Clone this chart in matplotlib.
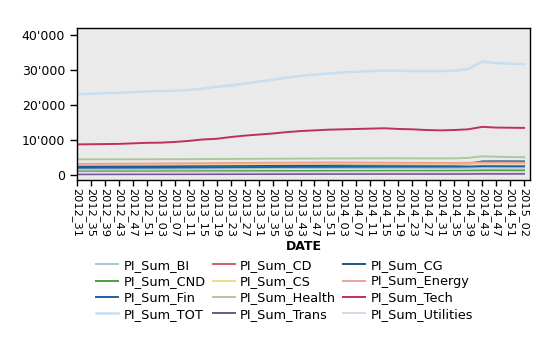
import numpy as np
import matplotlib
matplotlib.use("Agg")
import matplotlib.pyplot as plt
from matplotlib.ticker import FuncFormatter

# week labels (one value every 4 weeks)
weeks = ["2012_31", "2012_35", "2012_39", "2012_43", "2012_47", "2012_51",
         "2013_03", "2013_07", "2013_11", "2013_15", "2013_19", "2013_23",
         "2013_27", "2013_31", "2013_35", "2013_39", "2013_43", "2013_47",
         "2013_51", "2014_03", "2014_07", "2014_11", "2014_15", "2014_19",
         "2014_23", "2014_27", "2014_31", "2014_35", "2014_39", "2014_43",
         "2014_47", "2014_51", "2015_02"]

pi_bi = [1700, 1720, 1730, 1750, 1760, 1780, 1800, 1810, 1830, 1850, 1880, 1900,
         1930, 1960, 1990, 2010, 2030, 2040, 2050, 2060, 2070, 2070, 2080, 2080,
         2070, 2060, 2060, 2060, 2100, 2200, 2180, 2170, 2170]
pi_cd = [2800, 2810, 2830, 2850, 2870, 2880, 2900, 2920, 2950, 2980, 3000, 3050,
         3100, 3150, 3180, 3200, 3230, 3250, 3270, 3280, 3300, 3300, 3310, 3300,
         3280, 3270, 3300, 3350, 3450, 3700, 3680, 3660, 3650]
pi_cg = [2550, 2560, 2570, 2580, 2600, 2610, 2620, 2640, 2660, 2690, 2720, 2750,
         2780, 2820, 2850, 2880, 2900, 2920, 2940, 2950, 2970, 2980, 3000, 3000,
         3010, 3020, 3030, 3050, 3200, 3950, 3980, 3970, 3960]
pi_cnd = [1100, 1100, 1110, 1110, 1120, 1120, 1130, 1140, 1150, 1160, 1170, 1180,
          1190, 1200, 1210, 1220, 1230, 1240, 1250, 1250, 1260, 1270, 1280, 1280,
          1280, 1280, 1290, 1300, 1320, 1400, 1390, 1380, 1380]
pi_cs = [3000, 3010, 3020, 3030, 3040, 3050, 3060, 3080, 3100, 3120, 3140, 3160,
         3180, 3200, 3220, 3240, 3250, 3260, 3270, 3270, 3260, 3250, 3250, 3240,
         3230, 3220, 3220, 3230, 3250, 3300, 3290, 3280, 3280]
pi_energy = [3250, 3270, 3300, 3320, 3340, 3360, 3380, 3400, 3420, 3450, 3480, 3500,
             3530, 3560, 3580, 3600, 3620, 3640, 3650, 3650, 3640, 3620, 3600, 3580,
             3560, 3540, 3520, 3530, 3560, 3650, 3640, 3630, 3620]
pi_fin = [2150, 2160, 2170, 2180, 2190, 2200, 2210, 2230, 2250, 2270, 2290, 2310,
          2330, 2350, 2370, 2390, 2400, 2410, 2420, 2430, 2440, 2450, 2460, 2460,
          2460, 2460, 2470, 2480, 2500, 2600, 2590, 2580, 2580]
pi_health = [4550, 4550, 4560, 4560, 4570, 4570, 4580, 4590, 4600, 4620, 4640, 4660,
             4680, 4700, 4720, 4740, 4760, 4780, 4800, 4810, 4820, 4830, 4840, 4840,
             4830, 4820, 4820, 4840, 4950, 5400, 5300, 5200, 5150]
pi_tech = [8800, 8850, 8900, 8950, 9100, 9250, 9300, 9500, 9800, 10200, 10400, 10900,
           11300, 11600, 11900, 12300, 12600, 12800, 13000, 13100, 13200, 13300, 13400, 13200,
           13100, 12900, 12800, 12900, 13100, 13800, 13600, 13550, 13500]
pi_tot = [23100, 23200, 23400, 23500, 23700, 23900, 24000, 24100, 24300, 24700, 25200, 25600,
          26100, 26700, 27200, 27800, 28300, 28700, 29000, 29300, 29500, 29700, 29800, 29800,
          29700, 29700, 29700, 29800, 30300, 32400, 32000, 31800, 31700]
pi_trans = [300, 300, 310, 310, 320, 320, 330, 330, 340, 340, 350, 350,
            360, 360, 370, 370, 380, 380, 390, 390, 400, 400, 400, 400,
            400, 400, 400, 410, 420, 450, 440, 440, 440]
pi_utilities = [750, 750, 760, 760, 770, 770, 780, 780, 790, 790, 800, 800,
                810, 810, 820, 820, 830, 830, 840, 840, 850, 850, 850, 850,
                850, 850, 850, 860, 870, 900, 890, 890, 890]

series = [
    ("PI_Sum_BI", pi_bi, "#a7c7d6"),
    ("PI_Sum_CD", pi_cd, "#cf5f6f"),
    ("PI_Sum_CG", pi_cg, "#1f5682"),
    ("PI_Sum_CND", pi_cnd, "#4e9e3e"),
    ("PI_Sum_CS", pi_cs, "#f2d98c"),
    ("PI_Sum_Energy", pi_energy, "#eea09a"),
    ("PI_Sum_Fin", pi_fin, "#1f5fa6"),
    ("PI_Sum_Health", pi_health, "#aec89c"),
    ("PI_Sum_Tech", pi_tech, "#c0305e"),
    ("PI_Sum_TOT", pi_tot, "#c6def0"),
    ("PI_Sum_Trans", pi_trans, "#6e5490"),
    ("PI_Sum_Utilities", pi_utilities, "#e2d2ea"),
]

fig = plt.figure(figsize=(5.59, 3.53), dpi=100)
ax = fig.add_axes([0.1377, 0.49, 0.8113, 0.43])
ax.set_facecolor("#eaeaea")

x = np.arange(len(weeks))
handles = []
for name, vals, col in series:
    lw = 1.8 if name == "PI_Sum_TOT" else 1.4
    h, = ax.plot(x, vals, color=col, lw=lw, label=name)
    handles.append(h)

ax.set_xlim(0, len(weeks) - 1 + 0.46)
ax.set_ylim(-1350, 41900)
ax.set_yticks([0, 10000, 20000, 30000, 40000])
ax.yaxis.set_major_formatter(FuncFormatter(lambda v, p: f"{int(v):,}".replace(",", "'")))
ax.set_xticks(x)
ax.set_xticklabels(weeks, rotation=270, fontsize=8.2)
ax.tick_params(axis="y", labelsize=9, length=5, width=1, colors="black")
ax.tick_params(axis="x", length=4, width=1, pad=2)
for s in ax.spines.values():
    s.set_linewidth(1)
ax.set_xlabel("DATE", fontsize=9, fontweight="bold", labelpad=2)

# legend is filled row by row in the reference
order = [0, 3, 6, 9, 1, 4, 7, 10, 2, 5, 8, 11]
fig.legend([handles[i] for i in order], [series[i][0] for i in order],
           loc="upper left", bbox_to_anchor=(0.161, 0.285), ncol=3, frameon=False,
           fontsize=9.3, handlelength=1.7, handletextpad=0.4, columnspacing=0.55,
           labelspacing=0.25, borderpad=0)

fig.savefig("out.png", dpi=100)
